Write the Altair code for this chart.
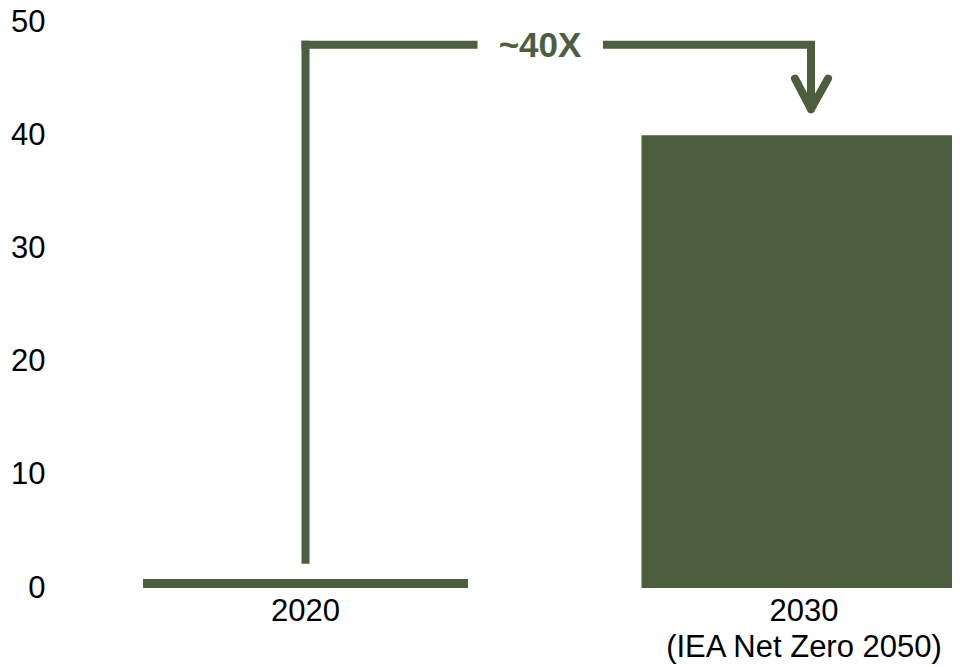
import altair as alt
import pandas as pd

# ---- data ----
categories = ["2020", "2030\n(IEA Net Zero 2050)"]
values = [0.8, 40]
y_ticks = [0, 10, 20, 30, 40, 50]
annotation_label = "~40X"
bracket_start = 2.5
bracket_top = 48
arrow_tip = 42.3
arrow_wing = 45

GREEN = "#4c5e3e"
FONT = "Liberation Sans"

bars_df = pd.DataFrame({"cat": categories, "value": values})

x_scale = alt.Scale(domain=categories, range=[83, 906.5], paddingInner=0.348, paddingOuter=0)
y_scale = alt.Scale(domain=[0, 50], nice=False)

bars = alt.Chart(bars_df).mark_bar(color=GREEN).encode(
    x=alt.X("cat:N", scale=x_scale, sort=None,
            axis=alt.Axis(title=None, labelAngle=0, domain=False, ticks=False,
                          labelExpr="split(datum.label, '\\n')",
                          labelFont=FONT, labelFontSize=31, labelColor="black",
                          labelPadding=8, labelLineHeight=36, labelLimit=0)),
    y=alt.Y("value:Q", scale=y_scale,
            axis=alt.Axis(values=y_ticks, title=None, grid=False, domain=False, ticks=False,
                          labelFont=FONT, labelFontSize=31, labelColor="black",
                          labelPadding=15)),
)

c0, c1 = categories

def seg(cat, cat2, y, y2):
    return pd.DataFrame({"cat": [cat], "cat2": [cat2], "y": [y], "y2": [y2]})

def rule(df, cap="square", **offs):
    return alt.Chart(df).mark_rule(color=GREEN, strokeWidth=8, strokeCap=cap, **offs).encode(
        x=alt.X("cat:N", sort=None), x2="cat2:N", y=alt.Y("y:Q"), y2="y2:Q")

def vrule(df, cap="square", **offs):
    return alt.Chart(df).mark_rule(color=GREEN, strokeWidth=8, strokeCap=cap, **offs).encode(
        x=alt.X("cat:N", sort=None), y=alt.Y("y:Q"), y2="y2:Q")

left_vertical = vrule(seg(c0, c0, bracket_start, bracket_top))
top_left = rule(seg(c0, c0, bracket_top, bracket_top), x2Offset=168)
top_right = rule(seg(c1, c1, bracket_top, bracket_top), xOffset=-197, x2Offset=7)
right_vertical = vrule(seg(c1, c1, bracket_top, arrow_tip + 0.4), cap="butt", xOffset=7)
wing_left = rule(seg(c1, c1, arrow_wing, arrow_tip), cap="round", xOffset=-9, x2Offset=7)
wing_right = rule(seg(c1, c1, arrow_wing, arrow_tip), cap="round", xOffset=24, x2Offset=7)

label_df = pd.DataFrame({"cat": [c0], "y": [bracket_top], "label": [annotation_label]})
label = alt.Chart(label_df).mark_text(
    color=GREEN, font=FONT, fontSize=35, fontWeight="bold",
    align="center", baseline="middle", dx=234.5, dy=1,
).encode(x=alt.X("cat:N", sort=None), y=alt.Y("y:Q"), text="label:N")

chart = alt.layer(
    bars, left_vertical, top_left, top_right, right_vertical, wing_left, wing_right, label
).properties(
    width=892, height=566,
    autosize=alt.AutoSizeParams(type="none"),
    padding={"left": 52, "top": 14, "right": 0, "bottom": 79},
).configure_view(stroke=None)

chart.save("out.html", embed_options={"renderer": "svg", "actions": False})
